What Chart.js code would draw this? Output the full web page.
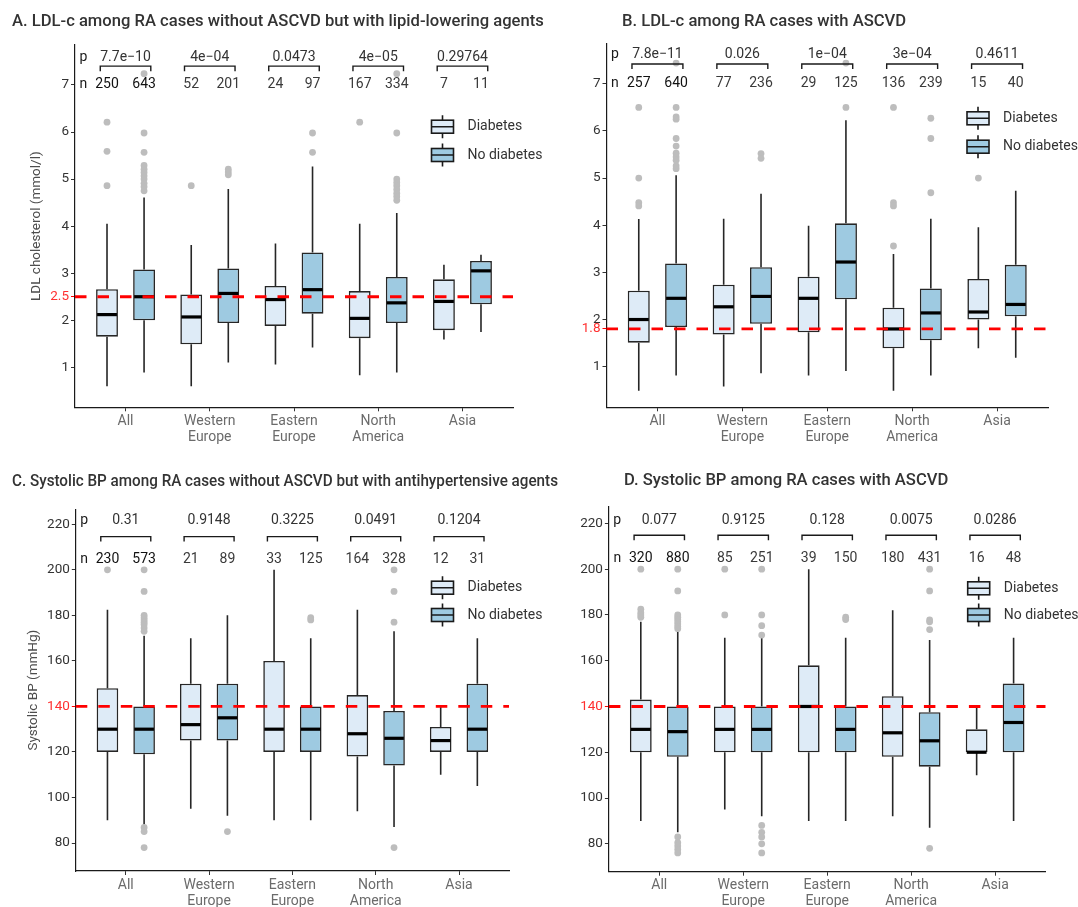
<!DOCTYPE html>
<html>
<head>
<meta charset="utf-8">
<script src="https://cdn.jsdelivr.net/npm/chart.js@4.4.1/dist/chart.umd.min.js"></script>
<style>
html, body { margin: 0; padding: 0; background: #fff; }
body { width: 1078px; height: 907px; position: relative; overflow: hidden; }
canvas { position: absolute; }
</style>
</head>
<body>
<canvas id="cA" width="600" height="453" style="left:0;top:0"></canvas>
<canvas id="cB" width="539" height="453" style="left:539px;top:0"></canvas>
<canvas id="cC" width="600" height="454" style="left:0;top:453px"></canvas>
<canvas id="cD" width="539" height="454" style="left:539px;top:453px"></canvas>
<script>
// categories on the x axis (multi-line labels as arrays)
const categories = ['All', ['Western', 'Europe'], ['Eastern', 'Europe'], ['North', 'America'], 'Asia'];
const groupNames = ['Diabetes', 'No diabetes'];

// each box: [lower whisker, Q1, median, Q3, upper whisker]

// A. LDL-c, no ASCVD, lipid-lowering agents
const aDiab = [[0.60, 1.65, 2.12, 2.66, 4.05], [0.60, 1.49, 2.07, 2.55, 3.60], [1.06, 1.88, 2.44, 2.73, 3.63], [0.83, 1.62, 2.04, 2.62, 4.05], [1.59, 1.79, 2.40, 2.87, 3.18]];
const aNoDiab = [[0.89, 2.00, 2.50, 3.08, 4.61], [1.10, 1.94, 2.57, 3.10, 4.79], [1.42, 2.14, 2.65, 3.44, 5.27], [0.89, 1.94, 2.37, 2.92, 4.28], [1.75, 2.34, 3.05, 3.26, 3.39]];
const aDiabOut = [[6.21, 5.59, 4.86], [4.86], [], [6.21], []];
const aNoDiabOut = [[7.24, 5.98, 5.57, 5.29, 5.21, 5.14, 5.07, 5.0, 4.91, 4.84, 4.75], [5.21, 5.15, 5.09], [5.98, 5.57], [7.24, 5.98, 5.0, 4.93, 4.86, 4.78, 4.7, 4.63, 4.55], []];
const aP = ['7.7e\u221210', '4e\u221204', '0.0473', '4e\u221205', '0.29764'];
const aNDiab = [250, 52, 24, 167, 7];
const aNNoDiab = [643, 201, 97, 334, 11];

// B. LDL-c, with ASCVD
const bDiab = [[0.49, 1.51, 2.00, 2.61, 4.13], [0.58, 1.68, 2.27, 2.74, 4.14], [0.81, 1.73, 2.45, 2.91, 3.99], [0.49, 1.39, 1.80, 2.25, 3.39], [1.39, 2.00, 2.16, 2.86, 3.96]];
const bNoDiab = [[0.81, 1.84, 2.45, 3.19, 5.06], [0.86, 1.91, 2.49, 3.11, 4.67], [0.91, 2.43, 3.22, 4.04, 6.23], [0.81, 1.56, 2.14, 2.66, 4.14], [1.19, 2.07, 2.32, 3.16, 4.73]];
const bDiabOut = [[6.5, 5.0, 4.48, 4.41], [], [], [6.5, 4.48, 4.41, 3.56], [5.0]];
const bNoDiabOut = [[7.44, 6.5, 6.3, 6.25, 5.84, 5.68, 5.53, 5.45, 5.38, 5.26, 5.2], [5.52, 5.42], [7.44, 6.5], [6.27, 5.84, 4.69], []];
const bP = ['7.8e\u221211', '0.026', '1e\u221204', '3e\u221204', '0.4611'];
const bNDiab = [257, 77, 29, 136, 15];
const bNNoDiab = [640, 236, 125, 239, 40];

// C. Systolic BP, no ASCVD, antihypertensive agents
const cDiab = [[90, 120, 130, 148, 182.5], [95, 125, 132, 150, 170], [90, 120, 130, 160, 200], [94, 118, 128, 145, 182.5], [110, 120, 125, 131, 140]];
const cNoDiab = [[88, 119, 130, 140, 171], [92, 125, 135, 150, 180], [90, 120, 130, 140, 170], [87, 114, 126, 138, 173], [105, 120, 130, 150, 170]];
const cDiabOut = [[200], [], [], [], []];
const cNoDiabOut = [[200, 190.5, 180, 179, 178, 177, 176, 174.5, 173, 86.8, 85, 78], [85], [179, 178], [200, 190.5, 177, 78], []];
const cP = ['0.31', '0.9148', '0.3225', '0.0491', '0.1204'];
const cNDiab = [230, 21, 33, 164, 12];
const cNNoDiab = [573, 89, 125, 328, 31];

// D. Systolic BP, with ASCVD
const dDiab = [[90, 120, 130, 143, 177], [95, 120, 130, 140, 170], [90, 120, 140, 158, 200], [92, 118, 128.5, 144.5, 182], [110, 120, 120, 130, 140]];
const dNoDiab = [[85, 118, 129, 140, 172.7], [92, 120, 130, 140, 170], [90, 120, 130, 140, 170], [87, 113.7, 125, 137.5, 169], [90, 120, 133, 150, 170]];
const dDiabOut = [[200, 182.5, 181, 180, 179], [200, 180], [], [], []];
const dNoDiabOut = [[200, 190.5, 180, 179, 178, 177, 176, 175, 174, 83, 80.5, 79, 77.5, 76], [200, 180, 175.3, 171.2, 88, 85, 83, 80, 76], [179, 178], [200, 190.5, 177.8, 177, 173.6, 78], []];
const dP = ['0.077', '0.9125', '0.128', '0.0075', '0.0286'];
const dNDiab = [320, 85, 39, 180, 16];
const dNNoDiab = [880, 251, 150, 431, 48];

const ldlTicks = [1, 2, 3, 4, 5, 6, 7];
const sbpTicks = [80, 100, 120, 140, 160, 180, 200, 220];

const FILLS = ['#deebf7', '#9ecae1'];
const INK = '#262626';
const FONT = 'Roboto, "Liberation Sans", sans-serif';
Chart.defaults.font.family = FONT;

function boxPlugin(p) {
  return {
    id: 'box' + p.key,
    beforeDatasetsDraw(chart) {
      const ctx = chart.ctx, y = chart.scales.y;
      ctx.save();
      ctx.strokeStyle = INK;
      ctx.lineWidth = 1.6;
      p.stats.forEach((st, d) => {
        chart.getDatasetMeta(d).data.forEach((el, i) => {
          const s = st[i];
          ctx.beginPath();
          ctx.moveTo(el.x, y.getPixelForValue(s[4]));
          ctx.lineTo(el.x, y.getPixelForValue(s[3]));
          ctx.moveTo(el.x, y.getPixelForValue(s[1]));
          ctx.lineTo(el.x, y.getPixelForValue(s[0]));
          ctx.stroke();
        });
      });
      ctx.restore();
    },
    afterDatasetsDraw(chart) {
      const ctx = chart.ctx, x = chart.scales.x, y = chart.scales.y, a = chart.chartArea;
      ctx.save();
      // medians + outliers
      p.stats.forEach((st, d) => {
        chart.getDatasetMeta(d).data.forEach((el, i) => {
          const ym = y.getPixelForValue(st[i][2]);
          ctx.strokeStyle = '#000';
          ctx.lineWidth = 3.2;
          ctx.beginPath();
          ctx.moveTo(el.x - el.width / 2 + 1, ym);
          ctx.lineTo(el.x + el.width / 2 - 1, ym);
          ctx.stroke();
          ctx.fillStyle = '#bdbdbd';
          p.outliers[d][i].forEach(v => {
            ctx.beginPath();
            ctx.arc(el.x, y.getPixelForValue(v), 3.4, 0, Math.PI * 2);
            ctx.fill();
          });
        });
      });
      // reference line
      const yr = y.getPixelForValue(p.ref);
      ctx.strokeStyle = '#ff0000';
      ctx.lineWidth = 2.8;
      ctx.setLineDash([11.5, 11]);
      ctx.beginPath();
      ctx.moveTo(a.left, yr);
      ctx.lineTo(a.right, yr);
      ctx.stroke();
      ctx.setLineDash([]);
      // p values, brackets, n
      ctx.font = '14px ' + FONT;
      ctx.textAlign = 'center';
      ctx.textBaseline = 'middle';
      ctx.fillStyle = '#1a1a1a';
      const x0 = x.getPixelForValue(0.5);
      ctx.fillText('p', x0, y.getPixelForValue(p.pY));
      ctx.fillText('n', x0, y.getPixelForValue(p.nY));
      const yb = y.getPixelForValue(p.bY);
      p.pv.forEach((t, i) => {
        ctx.fillStyle = '#333';
        ctx.fillText(t, x.getPixelForValue(i + 1), y.getPixelForValue(p.pY));
        const l = x.getPixelForValue(i + 1 - 0.3), r = x.getPixelForValue(i + 1 + 0.3);
        ctx.strokeStyle = '#1a1a1a';
        ctx.lineWidth = 1.4;
        ctx.beginPath();
        ctx.moveTo(l, yb + 5);
        ctx.lineTo(l, yb);
        ctx.lineTo(r, yb);
        ctx.lineTo(r, yb + 5);
        ctx.stroke();
      });
      p.n.forEach((arr, d) => {
        chart.getDatasetMeta(d).data.forEach((el, i) => {
          ctx.fillStyle = i === 0 ? '#111' : '#3a3a3a';
          ctx.fillText(String(arr[i]), el.x, y.getPixelForValue(p.nY));
        });
      });
      ctx.restore();
    },
    afterDraw(chart) {
      const ctx = chart.ctx, a = chart.chartArea;
      ctx.save();
      // panel title
      ctx.font = '500 16.6px ' + FONT;
      ctx.fillStyle = '#333';
      ctx.textAlign = 'left';
      ctx.textBaseline = 'middle';
      ctx.fillText(p.title, p.titleX, p.titleY, p.titleW);
      // y axis title
      if (p.yTitle) {
        ctx.save();
        ctx.translate(p.yTitleX, (a.top + a.bottom) / 2);
        ctx.rotate(-Math.PI / 2);
        ctx.font = '13.5px ' + FONT;
        ctx.fillStyle = '#4d4d4d';
        ctx.textAlign = 'center';
        ctx.fillText(p.yTitle, 0, 0);
        ctx.restore();
      }
      // legend with box glyphs
      groupNames.forEach((g, d) => {
        const cx = p.legX, cy = p.legY + d * p.legDy;
        ctx.fillStyle = FILLS[d];
        ctx.fillRect(cx - 11, cy - 6.5, 22, 13);
        ctx.strokeStyle = '#1a1a1a';
        ctx.lineWidth = 1.6;
        ctx.strokeRect(cx - 11, cy - 6.5, 22, 13);
        ctx.beginPath();
        ctx.moveTo(cx - 11, cy);
        ctx.lineTo(cx + 11, cy);
        ctx.moveTo(cx, cy - 6.5);
        ctx.lineTo(cx, cy - 11.5);
        ctx.moveTo(cx, cy + 6.5);
        ctx.lineTo(cx, cy + 11.5);
        ctx.stroke();
        ctx.font = '14px ' + FONT;
        ctx.fillStyle = '#333';
        ctx.fillText(g, cx + 25, cy);
      });
      ctx.restore();
    }
  };
}

function makePanel(p) {
  const datasets = p.stats.map((st, d) => ({
    label: groupNames[d],
    data: st.map((s, i) => ({ x: i + 1, y: [s[1], s[3]] })),
    backgroundColor: FILLS[d],
    borderColor: INK,
    borderWidth: 1.6,
    borderSkipped: false,
    categoryPercentage: 0.88,
    barPercentage: 0.59
  }));
  const yTicks = p.yTicks.includes(p.ref) ? p.yTicks : p.yTicks.concat([p.ref]);
  const isRef = c => c.tick && c.tick.value === p.ref;
  new Chart(document.getElementById(p.canvas), {
    type: 'bar',
    data: { datasets },
    options: {
      responsive: false,
      animation: false,
      layout: { padding: { left: 0, top: p.top, right: p.right, bottom: 0 } },
      plugins: { legend: { display: false }, tooltip: { enabled: false } },
      scales: {
        x: {
          type: 'linear', min: 0.4, max: 5.6, offset: false,
          afterBuildTicks: s => { s.ticks = categories.map((c, i) => ({ value: i + 1 })); },
          afterFit: s => { s.height = p.xh; },
          grid: { drawOnChartArea: false, tickLength: 4, color: '#333', offset: false },
          border: { display: true, color: '#1a1a1a', width: 1.2 },
          ticks: {
            callback: v => categories[v - 1],
            color: '#6b6b6b', padding: 2, maxRotation: 0, autoSkip: false,
            font: { size: 14, lineHeight: 1.15 }
          }
        },
        y: {
          min: p.yMin, max: p.yMax, beginAtZero: false,
          afterBuildTicks: s => { s.ticks = yTicks.map(v => ({ value: v })); },
          afterFit: s => { s.width = p.left; },
          grid: { drawOnChartArea: false, tickLength: 4, color: c => isRef(c) ? '#ff0000' : '#333' },
          border: { display: true, color: '#1a1a1a', width: 1.2 },
          ticks: {
            callback: v => String(v),
            color: c => isRef(c) ? '#ff3030' : '#333',
            padding: 2, autoSkip: false,
            font: { size: 13.5 }
          }
        }
      }
    },
    plugins: [boxPlugin(p)]
  });
}

makePanel({
  key: 'A', canvas: 'cA',
  title: 'A. LDL-c among RA cases without ASCVD but with lipid-lowering agents',
  titleX: 12, titleY: 21.7, titleW: 534,
  yTitle: 'LDL cholesterol (mmol/l)', yTitleX: 37,
  left: 75, top: 45, right: 87, xh: 45.7,
  yMin: 0.15, yMax: 7.85, yTicks: ldlTicks, ref: 2.5,
  pY: 7.59, bY: 7.40, nY: 7.0,
  legX: 442.5, legY: 126.7, legDy: 28.3,
  stats: [aDiab, aNoDiab], outliers: [aDiabOut, aNoDiabOut], pv: aP, n: [aNDiab, aNNoDiab]
});

makePanel({
  key: 'B', canvas: 'cB',
  title: 'B. LDL-c among RA cases with ASCVD',
  titleX: 83, titleY: 21.7, titleW: 440,
  yTitle: null,
  left: 67.5, top: 43.3, right: 30, xh: 45.7,
  yMin: 0.138, yMax: 7.86, yTicks: ldlTicks, ref: 1.8,
  pY: 7.62, bY: 7.42, nY: 7.0,
  legX: 439, legY: 118.3, legDy: 28.4,
  stats: [bDiab, bNoDiab], outliers: [bDiabOut, bNoDiabOut], pv: bP, n: [bNDiab, bNNoDiab]
});

makePanel({
  key: 'C', canvas: 'cC',
  title: 'C. Systolic BP among RA cases without ASCVD but with antihypertensive agents',
  titleX: 12, titleY: 28.7, titleW: 546,
  yTitle: 'Systolic BP (mmHg)', yTitleX: 34,
  left: 75.8, top: 56.3, right: 91, xh: 36,
  yMin: 67.7, yMax: 226.6, yTicks: sbpTicks, ref: 140,
  pY: 221.5, bY: 214.6, nY: 204.6,
  legX: 442.5, legY: 134.7, legDy: 27.3,
  stats: [cDiab, cNoDiab], outliers: [cDiabOut, cNoDiabOut], pv: cP, n: [cNDiab, cNNoDiab]
});

makePanel({
  key: 'D', canvas: 'cD',
  title: 'D. Systolic BP among RA cases with ASCVD',
  titleX: 85, titleY: 28, titleW: 440,
  yTitle: null,
  left: 69.9, top: 53.7, right: 32.5, xh: 35.3,
  yMin: 67.8, yMax: 227.3, yTicks: sbpTicks, ref: 140,
  pY: 221.4, bY: 214.8, nY: 204.5,
  legX: 439.7, legY: 135.3, legDy: 26.7,
  stats: [dDiab, dNoDiab], outliers: [dDiabOut, dNoDiabOut], pv: dP, n: [dNDiab, dNNoDiab]
});
</script>
</body>
</html>
